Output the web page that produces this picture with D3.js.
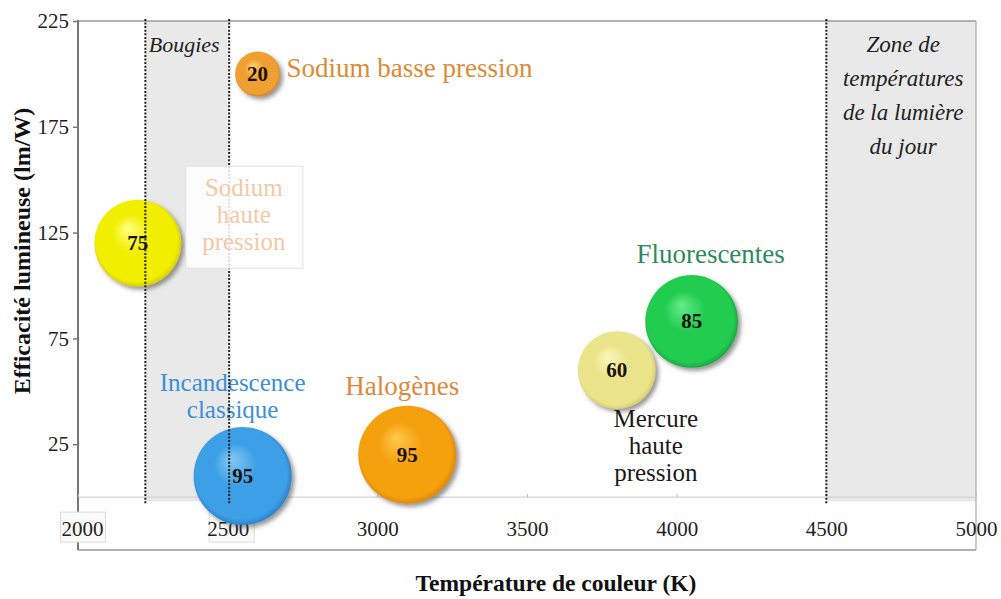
<!DOCTYPE html>
<html>
<head>
<meta charset="utf-8">
<script src="https://cdn.jsdelivr.net/npm/d3@7"></script>
<style>
  body { margin: 0; background: #fff; }
  svg { display: block; }
  svg text { font-family: "Liberation Serif", "DejaVu Serif", serif; }
</style>
</head>
<body>
<div id="chart"></div>
<script>
// Données : type de lampe, température de couleur (K), efficacité (lm/W), IRC (taille de bulle)
const lampNames = ["Sodium basse pression", "Sodium haute pression", "Incandescence classique",
                   "Halogènes", "Mercure haute pression", "Fluorescentes"];
const colorTemps = [2600, 2200, 2550, 3100, 3800, 4050];
const efficacies = [200, 120, 10, 20, 60, 83];
const renderIdx = [20, 75, 95, 95, 60, 85];
const xTicks = [2000, 2500, 3000, 3500, 4000, 4500, 5000];
const yTicks = [25, 75, 125, 175, 225];
const bandBougies = [2225, 2505];
const bandJour = [4500, 5000];

const width = 1001, height = 599;
const plotLeft = 78, plotRight = 976, plotTop = 21, plotBottom = 550;
const serif = "Liberation Serif";

// couleurs des sphères : clair, base, sombre
const sphereColors = [
    ["#ffcf70", "#f0a030", "#c06c10"],
    ["#ffff80", "#f2ee00", "#bdb400"],
    ["#86c8f6", "#3d9fe6", "#1a6abb"],
    ["#ffc84a", "#f5a010", "#c87400"],
    ["#faf6bc", "#ebe48a", "#c4bc5c"],
    ["#66ec88", "#22cc50", "#0e8a36"]
];

// placement des étiquettes (décalage par rapport au centre de la bulle)
const labelLayout = [
    { lines: ["Sodium basse pression"], dx: 29, dy: 3, anchor: "start", color: "#d98c35" },
    null,
    { lines: ["Incandescence", "classique"], dx: -10, dy: -85, anchor: "middle", color: "#3a8fd8" },
    { lines: ["Halogènes"], dx: -5, dy: -60, anchor: "middle", color: "#e0883a" },
    { lines: ["Mercure", "haute", "pression"], dx: 39, dy: 57, anchor: "middle", color: "#1a1a1a" },
    { lines: ["Fluorescentes"], dx: 19, dy: -58, anchor: "middle", color: "#2e8a5c" }
];

const svg = d3.select("#chart").append("svg")
    .attr("width", width)
    .attr("height", height);

const x = d3.scaleLinear().domain([2000, 5000]).range([plotLeft, plotRight]);
const y = d3.scaleLinear().domain([-25, 225]).range([plotBottom, plotTop]);
const r = d3.scaleSqrt().domain([0, 95]).range([0, 49]);

const defs = svg.append("defs");

const shadow = defs.append("filter")
    .attr("id", "ombre")
    .attr("x", "-30%").attr("y", "-30%")
    .attr("width", "170%").attr("height", "170%");
shadow.append("feDropShadow")
    .attr("dx", 3).attr("dy", 3)
    .attr("stdDeviation", 2)
    .attr("flood-color", "#444")
    .attr("flood-opacity", 0.55);

sphereColors.forEach((c, i) => {
    const g = defs.append("radialGradient")
        .attr("id", "sphere" + i)
        .attr("cx", "50%").attr("cy", "50%").attr("r", "55%")
        .attr("fx", "38%").attr("fy", "32%");
    g.append("stop").attr("offset", "0%").attr("stop-color", c[0]);
    g.append("stop").attr("offset", "40%").attr("stop-color", c[1]);
    g.append("stop").attr("offset", "85%").attr("stop-color", c[1]);
    g.append("stop").attr("offset", "100%").attr("stop-color", c[2]);
});

// zones grisées
svg.append("rect")
    .attr("x", x(bandBougies[0]))
    .attr("y", y(225))
    .attr("width", x(bandBougies[1]) - x(bandBougies[0]))
    .attr("height", y(-2) - y(225))
    .style("fill", "#e9e9e9");

svg.append("rect")
    .attr("x", x(bandJour[0]))
    .attr("y", y(225))
    .attr("width", x(bandJour[1]) - x(bandJour[0]))
    .attr("height", y(-2) - y(225))
    .style("fill", "#e9e9e9");

// cadre
svg.append("line")
    .attr("x1", plotLeft).attr("x2", plotRight)
    .attr("y1", y(225)).attr("y2", y(225))
    .style("stroke", "#999").style("stroke-width", 1.5);
svg.append("line")
    .attr("x1", plotRight).attr("x2", plotRight)
    .attr("y1", y(225)).attr("y2", plotBottom)
    .style("stroke", "#aaa").style("stroke-width", 1.2);
svg.append("line")
    .attr("x1", plotLeft).attr("x2", plotRight)
    .attr("y1", plotBottom).attr("y2", plotBottom)
    .style("stroke", "#999").style("stroke-width", 1.5);
svg.append("line")
    .attr("x1", plotLeft).attr("x2", plotRight)
    .attr("y1", y(0)).attr("y2", y(0))
    .style("stroke", "#ccc").style("stroke-width", 1);

// axe Y
const yAxis = svg.append("g")
    .attr("transform", `translate(${plotLeft},0)`)
    .call(d3.axisLeft(y).tickValues(yTicks).tickSize(5).tickPadding(4));
yAxis.select(".domain").remove();
yAxis.append("line")
    .attr("x1", 0).attr("x2", 0)
    .attr("y1", y(225) - 1).attr("y2", plotBottom)
    .style("stroke", "#777").style("stroke-width", 2);
yAxis.selectAll(".tick line").style("stroke", "#777").style("stroke-width", 1.5);
yAxis.selectAll(".tick text")
    .style("font-family", serif)
    .style("font-size", "21px")
    .style("fill", "#222");

// axe X (graduations sur la ligne y = 0)
const xAxis = svg.append("g")
    .attr("transform", `translate(0,${y(0)})`)
    .call(d3.axisBottom(x).tickValues(xTicks).tickFormat(d3.format("d")).tickSize(-3).tickPadding(24));
xAxis.select(".domain").remove();
xAxis.selectAll(".tick line").style("stroke", "#bbb");
xAxis.selectAll(".tick text")
    .style("font-family", serif)
    .style("font-size", "21px")
    .style("fill", "#222");

// petites boîtes derrière 2000 et 2500
xAxis.selectAll(".tick")
    .filter(d => d <= 2500)
    .insert("rect", "text")
    .attr("x", d => d === 2000 ? -18 : -19)
    .attr("y", 15)
    .attr("width", 45)
    .attr("height", 30)
    .style("fill", "#fafafa")
    .style("stroke", "#ddd");
xAxis.selectAll(".tick")
    .filter(d => d === 2000)
    .select("text")
    .attr("x", 4);

// titres des axes
svg.append("text")
    .attr("x", 556)
    .attr("y", 591)
    .attr("text-anchor", "middle")
    .style("font-family", serif)
    .style("font-weight", "bold")
    .style("font-size", "23.5px")
    .style("fill", "#111")
    .text("Température de couleur (K)");

svg.append("text")
    .attr("transform", "translate(30,251) rotate(-90)")
    .attr("text-anchor", "middle")
    .style("font-family", serif)
    .style("font-weight", "bold")
    .style("font-size", "24px")
    .style("fill", "#111")
    .text("Efficacité lumineuse (lm/W)");

// textes des zones
svg.append("text")
    .attr("x", (x(bandBougies[0]) + x(bandBougies[1])) / 2 - 3)
    .attr("y", 52)
    .attr("text-anchor", "middle")
    .style("font-family", serif)
    .style("font-style", "italic")
    .style("font-size", "22px")
    .style("fill", "#222")
    .text("Bougies");

const zone = svg.append("text")
    .attr("text-anchor", "middle")
    .style("font-family", serif)
    .style("font-style", "italic")
    .style("font-size", "23px")
    .style("fill", "#222");
["Zone de", "températures", "de la lumière", "du jour"].forEach((t, i) => {
    zone.append("tspan")
        .attr("x", (x(bandJour[0]) + x(bandJour[1])) / 2 + 2)
        .attr("y", 52 + i * 34)
        .text(t);
});

// bulles
const bubbles = svg.append("g").selectAll("g")
    .data(d3.range(lampNames.length))
    .enter().append("g")
    .attr("transform", i => `translate(${x(colorTemps[i])},${y(efficacies[i])})`);

bubbles.append("circle")
    .attr("r", i => r(renderIdx[i]))
    .attr("filter", "url(#ombre)")
    .style("fill", i => `url(#sphere${i})`);

bubbles.append("text")
    .attr("y", 7)
    .attr("text-anchor", "middle")
    .style("font-family", serif)
    .style("font-weight", "bold")
    .style("font-size", "21px")
    .style("fill", "#1a1208")
    .text(i => renderIdx[i]);

// étiquettes des lampes
labelLayout.forEach((lay, i) => {
    if (!lay) return;
    const t = svg.append("text")
        .attr("text-anchor", lay.anchor)
        .style("font-family", serif)
        .style("font-size", lay.lines.length > 1 ? "25px" : "27px")
        .style("fill", lay.color);
    lay.lines.forEach((line, k) => {
        t.append("tspan")
            .attr("x", x(colorTemps[i]) + lay.dx)
            .attr("y", y(efficacies[i]) + lay.dy + k * 27)
            .text(line);
    });
});

// lignes pointillées (au-dessus des bulles)
[bandBougies[0], bandBougies[1], bandJour[0]].forEach(v => {
    svg.append("line")
        .attr("x1", x(v)).attr("x2", x(v))
        .attr("y1", y(226)).attr("y2", y(-3))
        .style("stroke", "#222")
        .style("stroke-width", 2)
        .style("stroke-dasharray", "2,1.6");
});

// boîte "Sodium haute pression"
const boxX = x(colorTemps[1]) + 48, boxY = y(efficacies[1]) - 77;
svg.append("rect")
    .attr("x", boxX).attr("y", boxY)
    .attr("width", 117).attr("height", 102)
    .style("fill", "#fff")
    .style("fill-opacity", 0.85)
    .style("stroke", "#e2e2e2");
const sh = svg.append("text")
    .attr("text-anchor", "middle")
    .style("font-family", serif)
    .style("font-size", "25px")
    .style("fill", "#f2c9a6");
lampNames[1].split(" ").forEach((w, k) => {
    sh.append("tspan")
        .attr("x", boxX + 58)
        .attr("y", boxY + 30 + k * 27)
        .text(w);
});
</script>
</body>
</html>
